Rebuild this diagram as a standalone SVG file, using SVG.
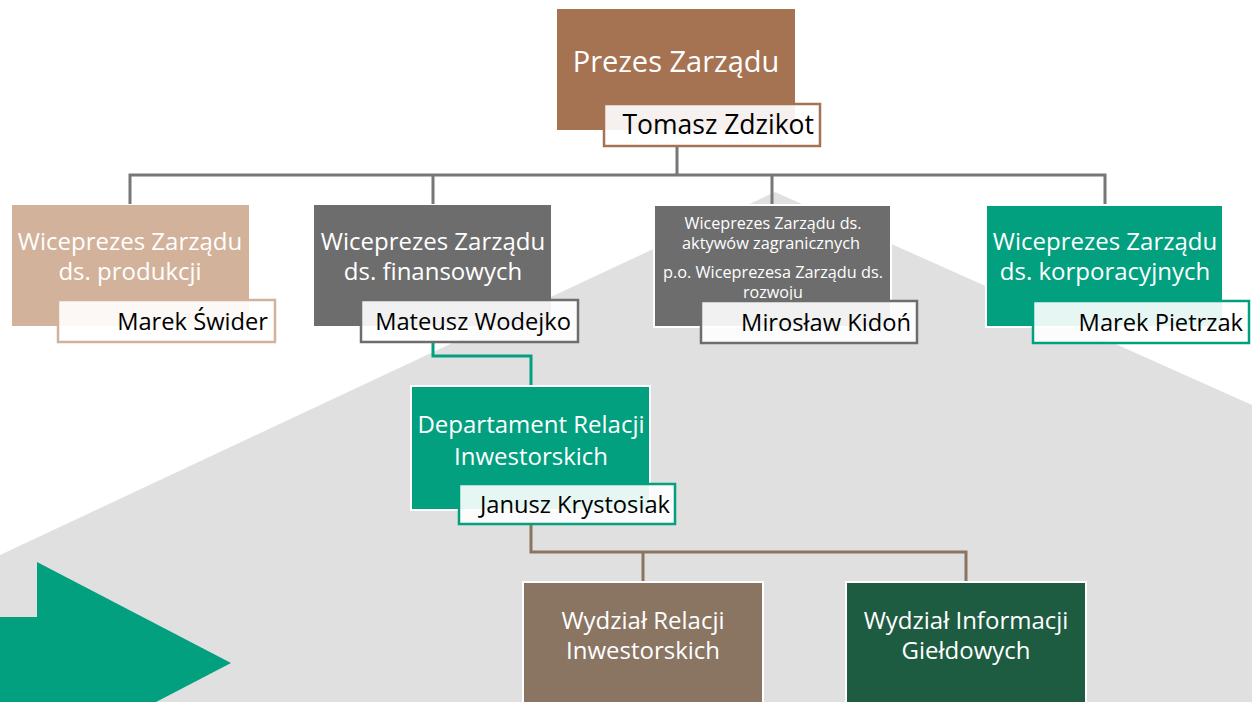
<svg xmlns="http://www.w3.org/2000/svg" width="1252" height="702" viewBox="0 0 1252 702">
<style>
.box{stroke:#fff;stroke-width:2}
.name{fill:#fff;fill-opacity:0.9;stroke-width:2.5}
.t{font-family:"Open Sans","Liberation Sans",sans-serif;fill:#fff;text-anchor:middle;font-size:24px}
.s{font-size:16px}
.n{font-family:"Open Sans","Liberation Sans",sans-serif;fill:#000;text-anchor:end;font-size:23.7px}
.conn{fill:none;stroke-width:3}
</style>
<rect width="1252" height="702" fill="#fff"/>
<polygon points="775,192 1252,405 1252,702 0,702 0,555" fill="#e0e0e0"/>
<polygon points="0,617 37,617 37,562 231,663 37,764 0,764" fill="#02a07f"/>
<g id="connectors">
<path class="conn" stroke="#777" d="M677,146 V175 M130,204 V175 H1105 V204 M433,175 V204 M772,175 V204"/>
<path class="conn" stroke="#02a07f" d="M433,342 V356 H531 V386"/>
<path class="conn" stroke="#8b7461" d="M531,524 V552 H966 V582 M643,552 V582"/>
</g>
<g id="prezes">
<rect x="557" y="9" width="238" height="121" fill="#a67352"/>
<text class="t" x="676" y="72" style="font-size:29px">Prezes Zarządu</text>
<rect class="name" x="604" y="104" width="216" height="42" stroke="#a67352"/>
<text class="n" x="814" y="134" style="font-size:26.5px">Tomasz Zdzikot</text>
</g>
<g id="vp-produkcja">
<rect x="12" y="205" width="237" height="121" fill="#d2b29a"/>
<text class="t" x="130" y="250">Wiceprezes Zarządu</text>
<text class="t" x="130" y="280">ds. produkcji</text>
<rect class="name" x="58" y="300" width="217" height="42" stroke="#d2b29a"/>
<text class="n" x="268" y="330">Marek Świder</text>
</g>
<g id="vp-finanse">
<rect x="314" y="205" width="237" height="121" fill="#6d6d6d"/>
<text class="t" x="433" y="250">Wiceprezes Zarządu</text>
<text class="t" x="433" y="280">ds. finansowych</text>
<rect class="name" x="361" y="300" width="217" height="42" stroke="#6d6d6d"/>
<text class="n" x="571" y="330">Mateusz Wodejko</text>
</g>
<g id="vp-aktywa">
<rect class="box" x="654" y="205" width="237" height="122" fill="#6d6d6d"/>
<text class="t s" x="773" y="229" textLength="177" lengthAdjust="spacingAndGlyphs">Wiceprezes Zarządu ds.</text>
<text class="t s" x="771" y="249" textLength="178" lengthAdjust="spacingAndGlyphs">aktywów zagranicznych</text>
<text class="t s" x="773" y="278" textLength="220" lengthAdjust="spacingAndGlyphs">p.o. Wiceprezesa Zarządu ds.</text>
<text class="t s" x="773" y="298" textLength="60" lengthAdjust="spacingAndGlyphs">rozwoju</text>
<rect class="name" x="701" y="301" width="216" height="42" stroke="#6d6d6d"/>
<text class="n" x="911" y="331">Mirosław Kidoń</text>
</g>
<g id="vp-korporacyjne">
<rect class="box" x="986" y="205" width="237" height="122" fill="#02a07f"/>
<text class="t" x="1105" y="250">Wiceprezes Zarządu</text>
<text class="t" x="1105" y="280">ds. korporacyjnych</text>
<rect class="name" x="1033" y="301" width="216" height="42" stroke="#02a07f"/>
<text class="n" x="1243" y="331">Marek Pietrzak</text>
</g>
<g id="departament">
<rect class="box" x="411" y="386" width="239" height="124" fill="#02a07f"/>
<text class="t" x="531" y="433">Departament Relacji</text>
<text class="t" x="531" y="465">Inwestorskich</text>
<rect class="name" x="459" y="484" width="216" height="40" stroke="#02a07f"/>
<text class="n" x="670" y="513">Janusz Krystosiak</text>
</g>
<g id="wydzial-relacji">
<rect class="box" x="523" y="582" width="240" height="130" fill="#8a7562"/>
<text class="t" x="643" y="629">Wydział Relacji</text>
<text class="t" x="643" y="659">Inwestorskich</text>
</g>
<g id="wydzial-informacji">
<rect class="box" x="846" y="582" width="240" height="130" fill="#1e5c42"/>
<text class="t" x="966" y="629">Wydział Informacji</text>
<text class="t" x="966" y="659">Giełdowych</text>
</g>
</svg>
